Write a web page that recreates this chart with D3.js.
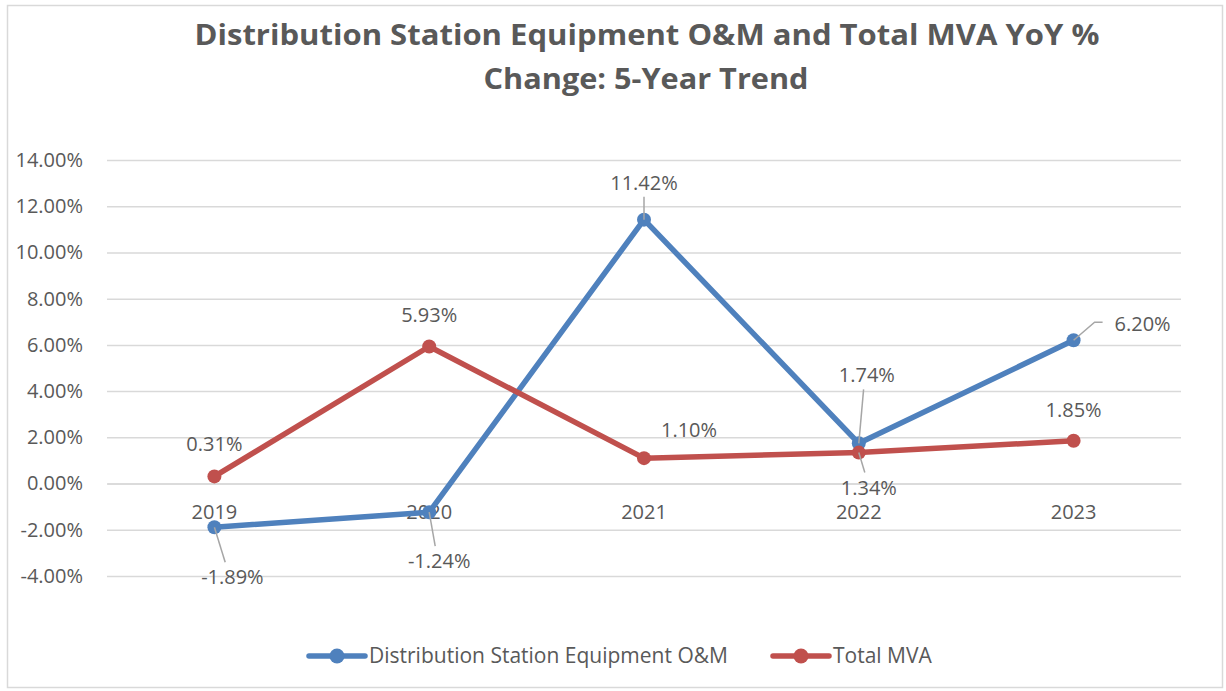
<!DOCTYPE html>
<html>
<head>
<meta charset="utf-8">
<script src="https://cdn.jsdelivr.net/npm/d3@7"></script>
<style>
  body { margin: 0; background: #fff; }
  text { font-family: "Open Sans", sans-serif; }
</style>
</head>
<body>
<div id="chart"></div>
<script>
// chart data
var years = ['2019', '2020', '2021', '2022', '2023'];
var equipOM = [-1.89, -1.24, 11.42, 1.74, 6.20];
var totalMVA = [0.31, 5.93, 1.10, 1.34, 1.85];
var yTicks = [-4, -2, 0, 2, 4, 6, 8, 10, 12, 14];
var seriesNames = ['Distribution Station Equipment O&M', 'Total MVA'];

var W = 1226, H = 691;
var blue = '#4f81bd', red = '#c0504d', grey = '#595959', grid = '#d9d9d9';

var svg = d3.select('#chart').append('svg').attr('width', W).attr('height', H);

// chart border
svg.append('rect').attr('x', 7.5).attr('y', 5.5).attr('width', 1215).attr('height', 682)
  .attr('fill', '#fff').attr('stroke', '#d9d9d9').attr('stroke-width', 1.5);

// title
svg.append('text').attr('x', 647).attr('y', 45).attr('text-anchor', 'middle')
  .attr('font-size', 29).attr('font-weight', 'bold').attr('fill', grey)
  .attr('textLength', 905).attr('lengthAdjust', 'spacingAndGlyphs')
  .text('Distribution Station Equipment O&M and Total MVA YoY %');
svg.append('text').attr('x', 646).attr('y', 89).attr('text-anchor', 'middle')
  .attr('font-size', 29).attr('font-weight', 'bold').attr('fill', grey)
  .attr('textLength', 325).attr('lengthAdjust', 'spacingAndGlyphs')
  .text('Change: 5-Year Trend');

var x = d3.scaleBand().domain(years).range([107, 1181]);
var y = d3.scaleLinear().domain([-4, 14]).range([576, 160]);
var cx = function(d, i){ return x(years[i]) + x.bandwidth() / 2; };

// gridlines + y labels
var yAxis = d3.axisLeft(y).tickValues(yTicks).tickSize(-(1181 - 107))
  .tickFormat(function(d){ return d.toFixed(2) + '%'; }).tickPadding(24);
var gy = svg.append('g').attr('transform', 'translate(107,0)').call(yAxis);
gy.select('.domain').remove();
gy.selectAll('line').attr('stroke', grid).attr('stroke-width', 1.5);
gy.selectAll('text').attr('font-size', 20).attr('fill', grey);

// category labels at zero line
var xAxis = d3.axisBottom(x).tickSize(0).tickPadding(21);
var gx = svg.append('g').attr('transform', 'translate(0,' + y(0) + ')').call(xAxis);
gx.select('.domain').attr('stroke', grid).attr('stroke-width', 1.5);
gx.selectAll('text').attr('font-size', 20).attr('fill', grey);

// label layout: [dx, dy, leader]
var equipLbl = [[18, 50, true], [10, 49, true], [0, -37, true], [8, -68, true], [69, -16, true]];
var mvaLbl = [[0, -32, false], [0, -32, false], [45, -28, false], [10, 35, true], [0, -31, false]];

function drawSeries(vals, color) {
  var line = d3.line().x(function(d, i){ return cx(d, i); }).y(function(d){ return y(d); });
  svg.append('path').datum(vals).attr('d', line).attr('fill', 'none')
    .attr('stroke', color).attr('stroke-width', 5.5).attr('stroke-linejoin', 'round');
  svg.selectAll(null).data(vals).enter().append('circle')
    .attr('cx', cx).attr('cy', function(d){ return y(d); }).attr('r', 7).attr('fill', color);
}

function drawLabels(vals, lbl) {
  vals.forEach(function(d, i){
    var px = cx(d, i), py = y(d), o = lbl[i];
    var tx = px + o[0], ty = py + o[1];
    if (o[2]) {
      var ex, ey, pts;
      if (Math.abs(o[0]) > 40) {
        ex = tx - 48; ey = ty - 2;
        pts = [[px, py], [ex, ey], [ex + 8, ey]];
      } else {
        ex = px + o[0] * 0.6; ey = o[1] > 0 ? ty - 15 : ty + 14;
        pts = [[px, py], [ex, ey]];
      }
      svg.append('path').attr('d', d3.line()(pts)).attr('fill', 'none')
        .attr('stroke', '#a6a6a6').attr('stroke-width', 1.5);
    }
    svg.append('text').attr('x', tx).attr('y', ty).attr('dy', '0.35em')
      .attr('text-anchor', 'middle').attr('font-size', 20).attr('fill', grey)
      .text(d.toFixed(2) + '%');
  });
}

drawSeries(equipOM, blue);
drawSeries(totalMVA, red);
drawLabels(equipOM, equipLbl);
drawLabels(totalMVA, mvaLbl);

// legend
var legend = [[seriesNames[0], blue, 309], [seriesNames[1], red, 773]];
legend.forEach(function(l){
  var g = svg.append('g').attr('transform', 'translate(' + l[2] + ',656)');
  g.append('line').attr('x1', 0).attr('x2', 56).attr('stroke', l[1]).attr('stroke-width', 5.5)
    .attr('stroke-linecap', 'round');
  g.append('circle').attr('cx', 28).attr('r', 7.5).attr('fill', l[1]);
  g.append('text').attr('x', 60).attr('dy', '0.35em').attr('font-size', 21).attr('fill', grey).text(l[0]);
});
</script>
</body>
</html>
